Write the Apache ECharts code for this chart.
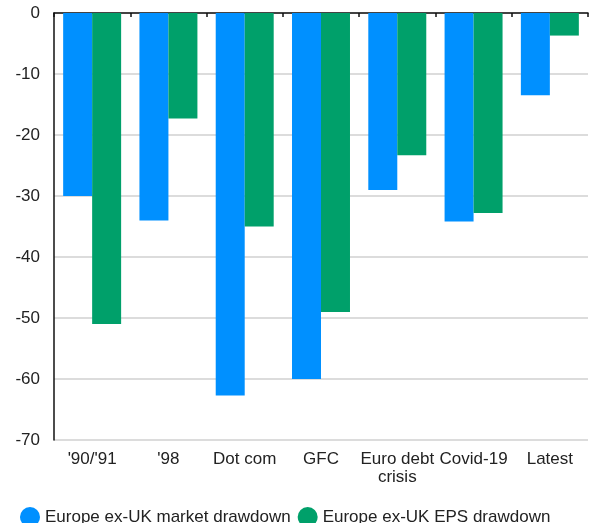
<!DOCTYPE html>
<html>
<head>
<meta charset="utf-8">
<script src="https://cdn.jsdelivr.net/npm/echarts@6/dist/echarts.min.js"></script>
<style>
  html, body { margin: 0; padding: 0; background: #fff; }
  #chart { width: 590px; height: 523px; }
</style>
</head>
<body>
<div id="chart"></div>
<script>
var categories = ["'90/'91", "'98", 'Dot com', 'GFC', 'Euro debt\ncrisis', 'Covid-19', 'Latest'];
var marketDrawdown = [-30, -34, -62.7, -60, -29, -34.2, -13.5];
var epsDrawdown = [-51, -17.3, -35, -49, -23.3, -32.8, -3.7];
var yTicks = { min: -70, max: 0, interval: 10 };

var myChart = echarts.init(document.getElementById('chart'));
var font = 'Liberation Sans, Arial, sans-serif';

var option = {
  animation: false,
  textStyle: { fontFamily: font },
  grid: { left: 54, right: 2, top: 13, bottom: 83 },
  legend: {
    left: 20,
    bottom: -4,
    padding: 0,
    icon: 'circle',
    itemWidth: 20,
    itemHeight: 20,
    itemGap: 7,
    textStyle: { fontSize: 17, color: '#222', fontFamily: font },
    data: ['Europe ex-UK market drawdown', 'Europe ex-UK EPS drawdown']
  },
  xAxis: [
    {
      type: 'category',
      position: 'bottom',
      data: categories,
      axisLine: { show: false, onZero: false },
      axisTick: { show: false },
      axisLabel: { interval: 0, fontSize: 17, color: '#222', margin: 10, lineHeight: 18, fontFamily: font }
    },
    {
      type: 'category',
      position: 'top',
      data: categories,
      axisLine: { show: true, onZero: false, lineStyle: { color: '#111', width: 1.5 } },
      axisTick: { show: true, inside: true, length: 4, lineStyle: { color: '#111', width: 1.5 } },
      axisLabel: { show: false }
    }
  ],
  yAxis: {
    type: 'value',
    min: yTicks.min,
    max: yTicks.max,
    interval: yTicks.interval,
    axisLine: { show: true, lineStyle: { color: '#111', width: 1.5 } },
    axisTick: { show: false },
    axisLabel: { fontSize: 17, color: '#222', margin: 14, fontFamily: font },
    splitLine: { lineStyle: { color: '#d0d0d0', width: 1.5 } }
  },
  series: [
    {
      name: 'Europe ex-UK market drawdown',
      type: 'bar',
      data: marketDrawdown,
      itemStyle: { color: '#0090ff' },
      barGap: '0%',
      barCategoryGap: '24%'
    },
    {
      name: 'Europe ex-UK EPS drawdown',
      type: 'bar',
      data: epsDrawdown,
      itemStyle: { color: '#00a06a' },
      barGap: '0%',
      barCategoryGap: '24%'
    }
  ]
};

option && myChart.setOption(option);
</script>
</body>
</html>
